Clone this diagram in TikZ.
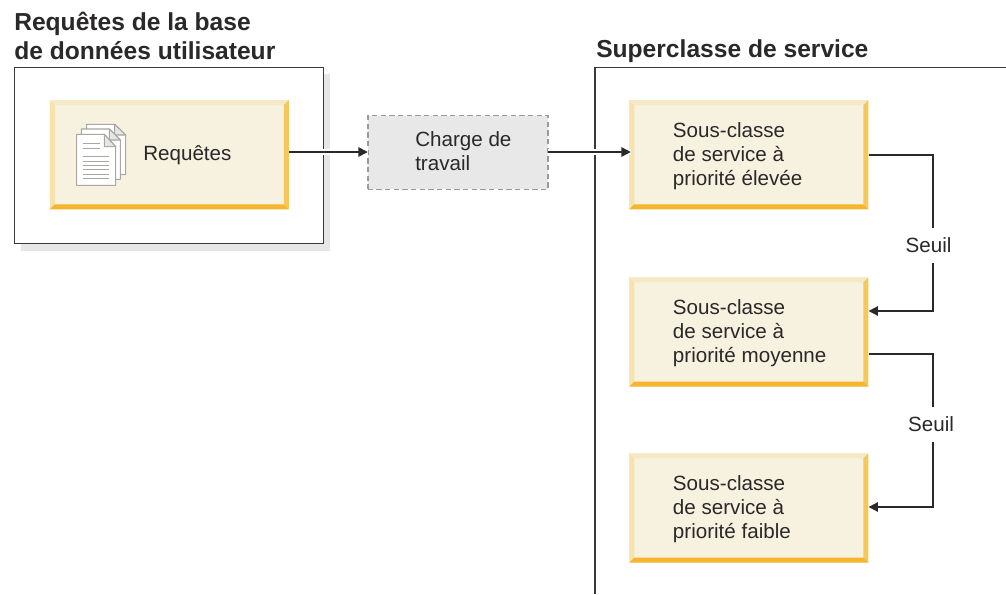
\documentclass[tikz,border=0pt]{standalone}
\usepackage{fontspec}
\setmainfont{Liberation Sans}
\usetikzlibrary{arrows.meta,calc}
\definecolor{ink}{HTML}{2A2829}
\definecolor{framec}{HTML}{3A3839}
\definecolor{shadowc}{HTML}{E6E6E6}
\definecolor{facec}{HTML}{F7F2E0}
\definecolor{bevT}{HTML}{F6E9C8}
\definecolor{bevL}{HTML}{F8E2AC}
\definecolor{bevR}{HTML}{F6C75C}
\definecolor{bevB}{HTML}{F5B52C}
\definecolor{dashf}{HTML}{E8E8E8}
\definecolor{dashc}{HTML}{9A9A9A}
\definecolor{pagel}{HTML}{A8A8A0}
\tikzset{
  x=0.75pt,y=-0.75pt,
  bevelbox/.style={
    minimum width=179.25pt,minimum height=82pt,inner sep=0pt,fill=facec,
    path picture={
      \coordinate (nw) at (path picture bounding box.north west);
      \coordinate (se) at (path picture bounding box.south east);
      \coordinate (ne) at (path picture bounding box.north east);
      \coordinate (sw) at (path picture bounding box.south west);
      \def\bv{3.75pt}
      \fill[bevT] (nw)--(ne)--($(ne)+(-\bv,-\bv)$)--($(nw)+(\bv,-\bv)$)--cycle;
      \fill[bevL] (nw)--(sw)--($(sw)+(\bv,\bv)$)--($(nw)+(\bv,-\bv)$)--cycle;
      \fill[bevR] (ne)--(se)--($(se)+(-\bv,\bv)$)--($(ne)+(-\bv,-\bv)$)--cycle;
      \fill[bevB] (sw)--(se)--($(se)+(-\bv,\bv)$)--($(sw)+(\bv,\bv)$)--cycle;
    }},
  labeltext/.style={text=ink,font=\fontsize{15.45pt}{18pt}\selectfont,align=left,inner sep=0pt},
  titletext/.style={text=ink,font=\fontsize{18.45pt}{21.8pt}\selectfont\bfseries,align=left,inner sep=0pt},
  connector/.style={draw=ink,line width=1.1pt,-{Triangle[length=7pt,width=7pt]}},
  haloline/.style={connector,preaction={draw=white,line width=4.5pt,-}},
  framebox/.style={draw=framec,line width=1.1pt,fill=white,outer sep=0pt},
  pagesheet/.style={draw=pagel,line width=0.8pt,fill=white,line join=round},
  pagefold/.style={draw=pagel,line width=0.8pt,fill=shadowc,line join=round},
  pagetext/.style={draw=pagel,line width=0.65pt},
}
\begin{document}
\begin{tikzpicture}
\useasboundingbox (0,0) rectangle (1006,594);
% outer frames
\fill[shadowc] (21,74) rectangle (330,250.7);
\node[framebox,anchor=north west,minimum width=231.75pt,minimum height=132.3pt,inner sep=0pt] (dbframe) at (14.3,67.3) {};
\coordinate (supA) at (595,594);
\coordinate (supB) at (595,67.3);
\coordinate (supC) at (1006,67.3);
\draw[draw=framec,line width=1.1pt] (supA)--(supB)--(supC);
% titles
\node[titletext,anchor=west] (t1) at (14,36) {Requêtes de la base\\de données utilisateur};
\node[titletext,anchor=west] (t2) at (596,51) {Superclasse de service};
% boxes
\node[bevelbox] (req) at (169.3,154.7) {};
\node[fill=dashf,draw=dashc,line width=1.1pt,outer sep=0pt,minimum width=135.2pt,minimum height=55.2pt,inner sep=0pt,dash pattern=on 4pt off 2.5pt] (load) at (457.9,152.5) {};
\node[bevelbox] (high) at (748.8,154.7) {};
\node[bevelbox] (mid) at (748.8,332) {};
\node[bevelbox] (low) at (748.8,508) {};
% connectors
\coordinate (c0) at (300,152);
\draw[haloline] (req.east |- c0) -- (load.west |- c0);
\draw[haloline] (load.east |- c0) -- ([xshift=1.3pt]high.west |- c0);
\coordinate (t1a) at (933,155);
\coordinate (t1b) at (933,311);
\coordinate (t2a) at (933,354);
\coordinate (t2b) at (933,507);
\draw[connector] (high.east |- t1a) -- (t1a) -- (t1b) -- (mid.east |- t1b);
\draw[connector] (mid.east |- t2a) -- (t2a) -- (t2b) -- (low.east |- t2b);
% labels
\node[labeltext,anchor=west] (reqt) at (143,155.5) {Requêtes};
\node[labeltext,anchor=west] (loadt) at (415,151.4) {Charge de\\travail};
\node[labeltext,anchor=west] (hight) at (672.7,156) {Sous-classe\\de service à\\priorité élevée};
\node[labeltext,anchor=west] (midt) at (672.7,333) {Sous-classe\\de service à\\priorité moyenne};
\node[labeltext,anchor=west] (lowt) at (672.7,509) {Sous-classe\\de service à\\priorité faible};
\node[labeltext,fill=white,inner xsep=2pt,minimum height=26pt] (s1) at (928.5,245.5) {Seuil};
\node[labeltext,fill=white,inner xsep=2pt,minimum height=26pt] (s2) at (931,424.5) {Seuil};
% document icon
\draw[pagesheet] (86.7,124.3) -- (114.7,124.3) -- (125.7,135) -- (125.7,174.7) -- (86.7,174.7) -- cycle;
\draw[pagefold] (114.7,124.3) -- (125.7,135) -- (114.7,135) -- cycle;
\draw[pagesheet] (81.3,129) -- (109.3,129) -- (120.3,140) -- (120.3,179.3) -- (81.3,179.3) -- cycle;
\draw[pagefold] (109.3,129) -- (120.3,140) -- (109.3,140) -- cycle;
\draw[pagesheet] (76.7,134.3) -- (104.3,134.3) -- (115.7,146.7) -- (115.7,185.3) -- (76.7,185.3) -- cycle;
\draw[pagefold] (104.3,134.3) -- (115.7,146.7) -- (104.3,146.7) -- cycle;
\foreach \yy/\xx in {143.3/100,148.3/100,156.3/109.3,161/109.3,165.3/109.3,169.7/109.3,174/109.3,178.3/109.3}{
  \draw[pagetext] (82.7,\yy) -- (\xx,\yy);
}
\end{tikzpicture}
\end{document}
